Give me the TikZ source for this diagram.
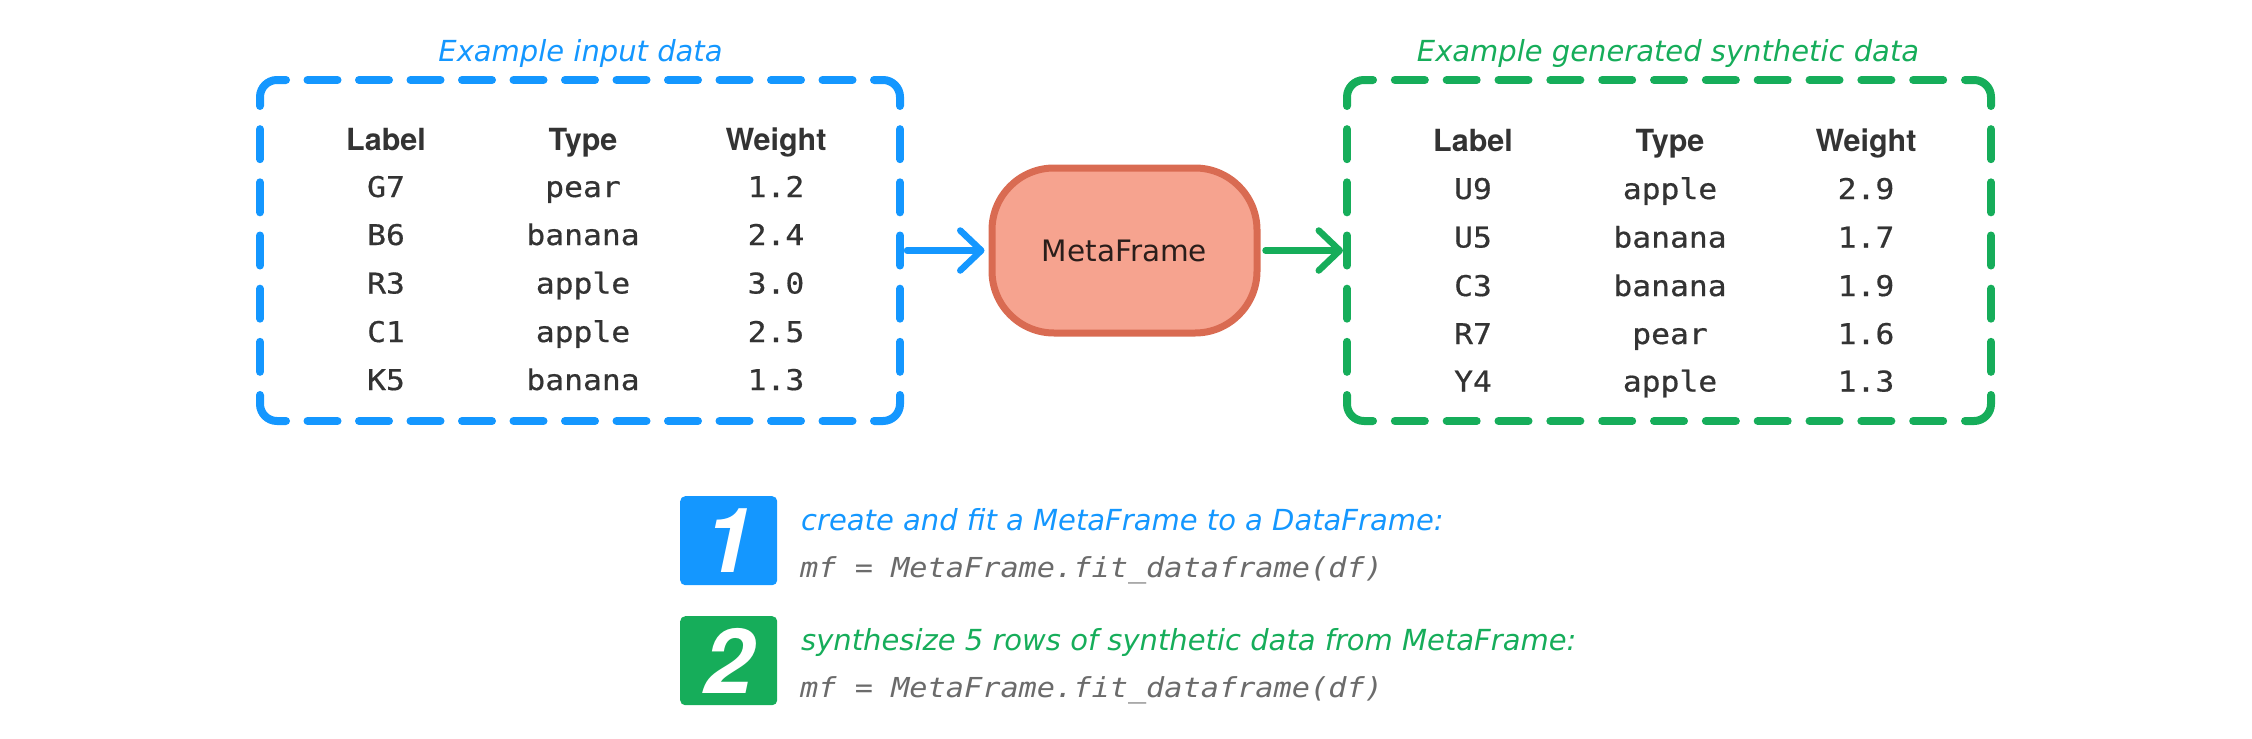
\documentclass[tikz,border=0pt]{standalone}
\usepackage{fontspec}
\setmainfont{DejaVu Sans}
\newfontfamily\hdfont{TeX Gyre Heros}
\newfontfamily\monofont[FakeStretch=1.1]{DejaVu Sans Mono}
\newfontfamily\tabfont[FakeStretch=1.1,FakeBold=0.6]{DejaVu Sans Mono}
\usetikzlibrary{arrows.meta}

\definecolor{cblue}{HTML}{1497FF}
\definecolor{cgreen}{HTML}{16AD5A}
\definecolor{salfill}{HTML}{F6A38F}
\definecolor{salline}{HTML}{D96B52}
\definecolor{tdark}{HTML}{333333}
\definecolor{tgray}{HTML}{6B6B6B}
\definecolor{mtext}{HTML}{2A1E1B}

% one dashed side: n dashes, evenly spread, gaps at both ends
\newcommand\dside[5]{%
  \pgfmathsetmacro\dsL{abs((#4)-(#2))+abs((#5)-(#3))}%
  \pgfmathsetmacro\dsN{max(1,round((\dsL-22)/52))}%
  \pgfmathsetmacro\dsG{(\dsL-\dsN*30)/(\dsN+1)}%
  \pgfmathsetmacro\dsF{(\dsL-\dsG/2)/\dsL}%
  \draw[#1, dash pattern=on 30bp off \dsG bp, dash phase=30bp]
    ({#2},{#3}) -- ({(#2)+((#4)-(#2))*\dsF},{(#3)+((#5)-(#3))*\dsF});
}
% dashed rounded frame: colour, x0, y0, x1, y1 (y downward)
\newcommand\dframe[5]{%
  \begin{scope}[#1, line width=8bp, line cap=round]
    \draw[rounded corners=17bp] (#2,#3+26) -- (#2,#3) -- (#2+26,#3);
    \draw[rounded corners=17bp] (#4-26,#3) -- (#4,#3) -- (#4,#3+26);
    \draw[rounded corners=17bp] (#4,#5-26) -- (#4,#5) -- (#4-26,#5);
    \draw[rounded corners=17bp] (#2+26,#5) -- (#2,#5) -- (#2,#5-26);
    \dside{}{#2+26}{#3}{#4-26}{#3}
    \dside{}{#2+26}{#5}{#4-26}{#5}
    \dside{}{#2}{#3+26}{#2}{#5-26}
    \dside{}{#4}{#3+26}{#4}{#5-26}
  \end{scope}%
}

\tikzset{
  frame/.style={inner sep=0, outer sep=0, draw=none},
  title/.style={anchor=base, inner sep=0, font=\fontsize{29bp}{34bp}\selectfont\itshape},
  hcell/.style={anchor=base, inner sep=0, text=tdark, font=\hdfont\bfseries\fontsize{30.5bp}{36bp}\selectfont},
  vcell/.style={anchor=base, inner sep=0, text=tdark, font=\tabfont\fontsize{28.5bp}{34bp}\selectfont},
  metabox/.style={draw=salline, fill=salfill, line width=7bp, rounded corners=62bp,
    minimum width=265bp, minimum height=165bp, text=mtext,
    font=\fontsize{29.5bp}{35bp}\selectfont},
  flow/.style={line width=6.5bp, line cap=round,
    -{Straight Barb[length=21bp, width=40bp, round]}},
  stepbox/.style={rounded corners=5bp, minimum width=97bp, minimum height=89bp,
    inner sep=0, text=white, font=\hdfont\bfseries\itshape\fontsize{90bp}{96bp}\selectfont},
  steptext/.style={anchor=base west, inner sep=0, font=\fontsize{29bp}{34bp}\selectfont\itshape},
  stepcode/.style={anchor=base west, inner sep=0, text=tgray, font=\monofont\itshape\fontsize{27.5bp}{33bp}\selectfont},
}

\begin{document}
\begin{tikzpicture}[x=1bp, y=-1bp]
\useasboundingbox (0,0) rectangle (2252,739);

% ---- input data ----
\node[title, text=cblue] (intitle) at (580.5,62) {Example input data};
\node[frame, minimum width=640bp, minimum height=341bp] (inbox) at (580,250.5) {};
\dframe{cblue}{260}{80}{900}{421}
\node[hcell] (in-h1) at (386,150) {Label};
\node[hcell] (in-h2) at (583,150) {Type};
\node[hcell] (in-h3) at (776,150) {Weight};
\foreach [count=\r] \yy/\a/\b/\cc in {197/G7/pear/1.2, 245/B6/banana/2.4, 293.5/R3/apple/3.0, 342/C1/apple/2.5, 390/K5/banana/1.3}{
  \node[vcell] (in-\r-1) at (386,\yy) {\a};
  \node[vcell] (in-\r-2) at (583,\yy) {\b};
  \node[vcell] (in-\r-3) at (776,\yy) {\cc};
}

% ---- synthetic data ----
\node[title, text=cgreen] (outtitle) at (1668,62) {Example generated synthetic data};
\node[frame, minimum width=644bp, minimum height=341bp] (outbox) at (1669,250.5) {};
\dframe{cgreen}{1347}{80}{1991}{421}
\node[hcell] (out-h1) at (1473,151) {Label};
\node[hcell] (out-h2) at (1670,151) {Type};
\node[hcell] (out-h3) at (1866,151) {Weight};
\foreach [count=\r] \yy/\a/\b/\cc in {199/U9/apple/2.9, 247.5/U5/banana/1.7, 296/C3/banana/1.9, 344/R7/pear/1.6, 391.5/Y4/apple/1.3}{
  \node[vcell] (out-\r-1) at (1473,\yy) {\a};
  \node[vcell] (out-\r-2) at (1670,\yy) {\b};
  \node[vcell] (out-\r-3) at (1866,\yy) {\cc};
}

% ---- MetaFrame ----
\node[metabox] (meta) at (1124.5,250.5) {MetaFrame};
\draw[flow, cblue] ([xshift=7bp]inbox.east) -- ([xshift=-4bp]meta.west);
\draw[flow, cgreen] ([xshift=5bp]meta.east) -- ([xshift=-4bp]outbox.west);

% ---- steps ----
\node[stepbox, fill=cblue] (s1) at (728.7,540.7) {1};
\node[stepbox, fill=cgreen] (s2) at (728.7,660.7) {2};
\node[steptext, text=cblue] (t1) at (801,530) {create and fit a MetaFrame to a DataFrame:};
\node[stepcode] (c1) at (800,577) {mf = MetaFrame.fit\_dataframe(df)};
\node[steptext, text=cgreen] (t2) at (801,650) {synthesize 5 rows of synthetic data from MetaFrame:};
\node[stepcode] (c2) at (800,697) {mf = MetaFrame.fit\_dataframe(df)};
\end{tikzpicture}
\end{document}
